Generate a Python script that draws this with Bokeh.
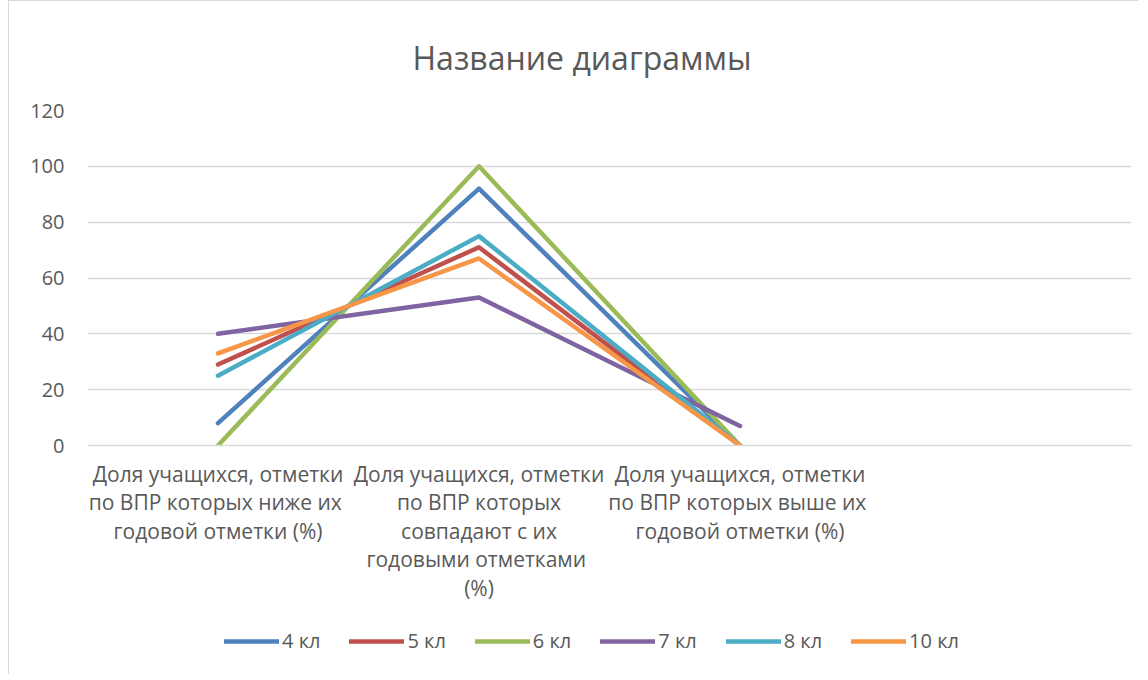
from bokeh.plotting import figure
from bokeh.models import Range1d, Legend, LegendItem, FactorRange
from bokeh.layouts import column
from bokeh.embed import file_html
from bokeh.resources import INLINE

categories = [
    "Доля учащихся, отметки\nпо ВПР которых  ниже их\nгодовой отметки (%)",
    "Доля учащихся, отметки\nпо ВПР которых\nсовпадают с их\nгодовыми  отметками\n(%)",
    "Доля учащихся, отметки\nпо ВПР которых  выше их\nгодовой отметки (%)",
    " ",
]
series_names = ["4 кл", "5 кл", "6 кл", "7 кл", "8 кл", "10 кл"]
kl4 = [8, 92, 0]
kl5 = [29, 71, 0]
kl6 = [0, 100, 0]
kl7 = [40, 53, 7]
kl8 = [25, 75, 0]
kl10 = [33, 67, 0]
series_values = [kl4, kl5, kl6, kl7, kl8, kl10]
colors = ["#4F81BD", "#C0504D", "#9BBB59", "#8064A2", "#4BACC6", "#F79646"]
y_ticks = [0, 20, 40, 60, 80, 100, 120]

FONT = "Open Sans"
TXT = "#595959"
BORDER = "1.5px solid #d9d9d9"

p = figure(
    frame_width=1043, frame_height=334,
    x_range=FactorRange(*categories, range_padding=0, factor_padding=0),
    y_range=Range1d(0, 120),
    output_backend="svg", toolbar_location=None,
    title="Название диаграммы",
    min_border_left=78, min_border_right=8, min_border_top=60, min_border_bottom=170,
)
p.styles = {"margin-left": "8px", "border-left": BORDER, "border-top": BORDER}

p.title.align = "left"
p.title.offset = 325
p.title.text_font = FONT
p.title.text_font_size = "32px"
p.title.text_font_style = "normal"
p.title.text_color = TXT
p.title.standoff = 64

p.outline_line_color = None
p.background_fill_color = "white"
p.border_fill_color = "white"

p.xgrid.grid_line_color = None
p.ygrid.grid_line_color = "#d9d9d9"
p.ygrid.grid_line_width = 1.3
p.yaxis.ticker = y_ticks

p.yaxis.axis_line_color = None
p.yaxis.major_tick_line_color = None
p.yaxis.minor_tick_line_color = None
p.yaxis.major_label_standoff = 17
p.yaxis.major_label_text_font = FONT
p.yaxis.major_label_text_font_size = "20px"
p.yaxis.major_label_text_color = TXT

p.xaxis.axis_line_color = "#d9d9d9"
p.xaxis.axis_line_width = 1.3
p.xaxis.major_tick_line_color = None
p.xaxis.minor_tick_line_color = None
p.xaxis.major_label_standoff = 8
p.xaxis.major_label_text_font = FONT
p.xaxis.major_label_text_font_size = "21px"
p.xaxis.major_label_text_color = TXT
p.xaxis.major_label_text_line_height = 1.02
p.xaxis.major_label_orientation = "horizontal"

for vals, c in zip(series_values, colors):
    p.line(categories[:3], vals, line_color=c, line_width=4.5,
           line_cap="round", line_join="round")

# legend strip below the chart (same series, drawn out of its visible range)
lg = figure(
    width=1129, height=60,
    x_range=FactorRange(*categories, range_padding=0, factor_padding=0),
    y_range=Range1d(500, 600),
    output_backend="svg", toolbar_location=None,
    min_border=0,
)
lg.styles = {"margin-left": "8px", "border-left": BORDER}
lg.axis.visible = False
lg.grid.visible = False
lg.outline_line_color = None
lg.background_fill_color = "white"
lg.border_fill_color = "white"

items = []
for name, vals, c in zip(series_names, series_values, colors):
    r = lg.line(categories[:3], vals, line_color=c, line_width=4.5,
                line_cap="round", line_join="round")
    items.append(LegendItem(label=name, renderers=[r]))

legend = Legend(items=items, orientation="horizontal", location=(137, 20),
                glyph_width=55, glyph_height=20, label_standoff=3, spacing=29,
                label_text_font=FONT, label_text_font_size="20px",
                label_text_color=TXT, border_line_color=None,
                background_fill_alpha=0, padding=0, margin=0)
lg.add_layout(legend, "center")

layout = column(p, lg, spacing=0)
open("out.html", "w").write(file_html(layout, INLINE))
